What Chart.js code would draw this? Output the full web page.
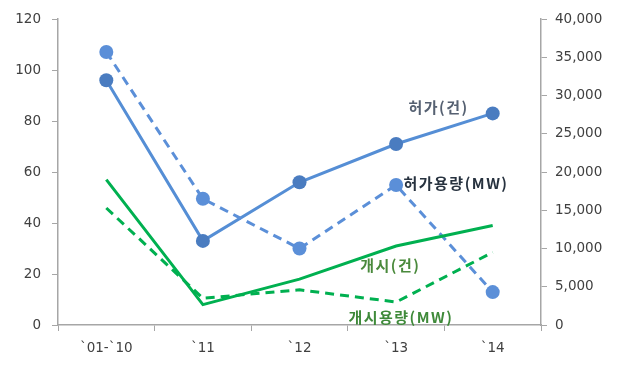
<!DOCTYPE html>
<html>
<head>
<meta charset="utf-8">
<script src="https://cdn.jsdelivr.net/npm/chart.js@4"></script>
<style>
  html, body { margin: 0; padding: 0; background: #fff; }
  #wrap { width: 619px; height: 366px; }
</style>
</head>
<body>
<div id="wrap"><canvas id="chart" width="619" height="366"></canvas></div>
<script>
// 연도 구분
const years = ['`01-`10', '`11', '`12', '`13', '`14'];
// 허가/개시 건수 (왼쪽 축)
const permitCount = [96, 33, 56, 71, 83];
const startCount = [57, 8, 18, 31, 39];
// 허가/개시 용량 MW (오른쪽 축)
const permitMW = [35700, 16500, 10000, 18300, 4300];
const startMW = [15300, 3500, 4600, 3000, 9500];
// 축 눈금
const leftTicks = [0, 20, 40, 60, 80, 100, 120];
const rightTicks = [0, 5000, 10000, 15000, 20000, 25000, 30000, 35000, 40000];
// 계열 이름표: [이름, 카테고리 위치, 왼쪽 축 값, 색]
const seriesLabels = [
  ['허가(건)', 3.44, 85.5, '#566172'],
  ['허가용량(MW)', 3.62, 55.7, '#27323f'],
  ['개시(건)', 2.94, 23.5, '#4a8a3c'],
  ['개시용량(MW)', 3.05, 3.1, '#3f8a3a']
];

const axisColor = '#a6a6a6';
const tickFont = { family: 'DejaVu Sans', size: 13.5 };

/** 계열 이름표 그리기 */
const labelPlugin = {
  id: 'seriesLabels',
  afterDatasetsDraw(chart) {
    const ctx = chart.ctx;
    const xs = chart.scales.x;
    const ys = chart.scales.y;
    ctx.save();
    ctx.font = '600 15px "Noto Sans CJK KR"';
    ctx.letterSpacing = '1.5px';
    ctx.textAlign = 'center';
    ctx.textBaseline = 'middle';
    seriesLabels.forEach(([text, idx, val, color]) => {
      ctx.fillStyle = color;
      ctx.fillText(text, xs.getPixelForValue(idx), ys.getPixelForValue(val));
    });
    ctx.restore();
  }
};

new Chart(document.getElementById('chart'), {
  type: 'line',
  data: {
    labels: years,
    datasets: [
      {
        label: '개시용량(MW)', data: startMW, yAxisID: 'y1',
        borderColor: '#00b050', borderWidth: 3, borderDash: [9, 6],
        pointRadius: 0, tension: 0
      },
      {
        label: '개시(건)', data: startCount, yAxisID: 'y',
        borderColor: '#00b050', borderWidth: 3,
        pointRadius: 0, tension: 0
      },
      {
        label: '허가용량(MW)', data: permitMW, yAxisID: 'y1',
        borderColor: '#5b8fd8', borderWidth: 3, borderDash: [9, 6],
        pointRadius: 7, pointBackgroundColor: '#5b8fd8', pointBorderWidth: 0,
        tension: 0
      },
      {
        label: '허가(건)', data: permitCount, yAxisID: 'y',
        borderColor: '#558ed5', borderWidth: 3,
        pointRadius: 7, pointBackgroundColor: '#4a7cc0', pointBorderWidth: 0,
        tension: 0
      }
    ]
  },
  options: {
    responsive: false,
    animation: false,
    layout: { padding: { top: 19, bottom: 0, left: 0, right: 0 } },
    plugins: { legend: { display: false }, tooltip: { enabled: false } },
    scales: {
      x: {
        offset: true,
        grid: { drawOnChartArea: false, offset: true, tickLength: 6, color: axisColor },
        border: { color: axisColor, width: 1.5 },
        ticks: { color: '#404040', font: tickFont, padding: 9 },
        afterFit(s) { s.height = 41; }
      },
      y: {
        position: 'left',
        min: 0, max: 120,
        afterBuildTicks(s) { s.ticks = leftTicks.map(v => ({ value: v })); },
        grid: { drawOnChartArea: false, tickLength: 6, color: axisColor },
        border: { color: axisColor, width: 1.5 },
        ticks: { color: '#404040', font: tickFont, padding: 11 },
        afterFit(s) { s.width = 58; }
      },
      y1: {
        position: 'right',
        min: 0, max: 40000,
        afterBuildTicks(s) { s.ticks = rightTicks.map(v => ({ value: v })); },
        grid: { drawOnChartArea: false, tickLength: 6, color: axisColor },
        border: { color: axisColor, width: 1.5 },
        ticks: {
          color: '#404040', font: tickFont, padding: 8,
          callback: v => v.toLocaleString('en-US')
        },
        afterFit(s) { s.width = 78; }
      }
    }
  },
  plugins: [labelPlugin]
});
</script>
</body>
</html>
